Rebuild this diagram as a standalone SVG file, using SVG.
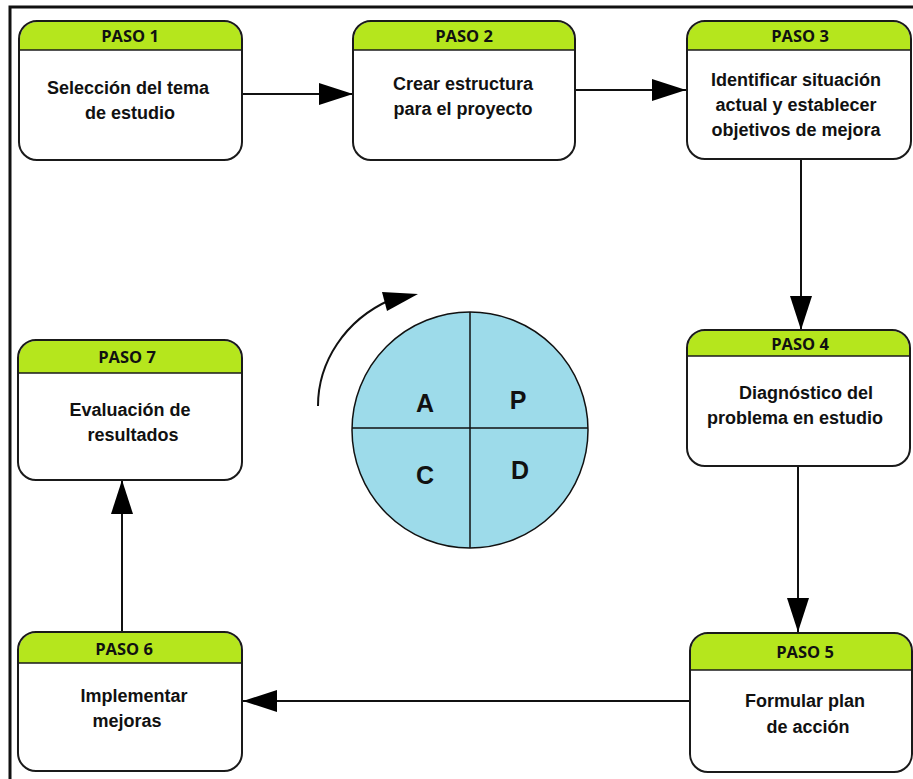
<svg xmlns="http://www.w3.org/2000/svg" width="913" height="779" viewBox="0 0 913 779">
<style>
.box{fill:#fff;stroke:#1a1a1a;stroke-width:2}
.hdr{fill:#b5e61d}
.sep{stroke:#1a1a1a;stroke-width:1.5}
.ht{font-family:"Open Sans","Noto Sans",sans-serif;font-weight:bold;font-size:16.5px;fill:#111;text-anchor:middle}
.bt{font-family:"Liberation Sans",Arial,sans-serif;font-weight:bold;font-size:18px;fill:#111;text-anchor:middle}
.ln{stroke:#111;stroke-width:2;fill:none}
.lt{font-family:"Liberation Sans",Arial,sans-serif;font-weight:bold;font-size:25px;fill:#111;text-anchor:middle}
</style>
<defs>
<marker id="ah" markerWidth="34" markerHeight="22" refX="34" refY="11" markerUnits="userSpaceOnUse" orient="auto">
<path d="M0,0 L34,11 L0,22 Z" fill="#000"/>
</marker>
</defs>
<rect width="913" height="779" fill="#fff"/>
<path d="M10,779 V7 H913" fill="none" stroke="#111" stroke-width="3"/>

<g id="connectors">
<line class="ln" x1="242" y1="94" x2="353" y2="94" marker-end="url(#ah)"/>
<line class="ln" x1="575" y1="90" x2="686" y2="90" marker-end="url(#ah)"/>
<line class="ln" x1="801" y1="160" x2="801" y2="330" marker-end="url(#ah)"/>
<line class="ln" x1="798" y1="466" x2="798" y2="632" marker-end="url(#ah)"/>
<line class="ln" x1="690" y1="701" x2="243" y2="701" marker-end="url(#ah)"/>
<line class="ln" x1="122" y1="632" x2="122" y2="480" marker-end="url(#ah)"/>
</g>

<g id="paso1">
<rect x="19" y="21" width="223" height="139" rx="18" fill="#fff"/>
<path class="hdr" d="M37,22 H224 A17,17 0 0 1 241,39 V50 H20 V39 A17,17 0 0 1 37,22 Z"/>
<line class="sep" x1="20" y1="50" x2="242" y2="50"/>
<rect x="19" y="21" width="223" height="139" rx="18" fill="none" stroke="#1a1a1a" stroke-width="2"/>
<text class="ht" x="130" y="42">PASO 1</text>
<text class="bt" x="128" y="94">Selección del tema</text>
<text class="bt" x="130" y="119">de estudio</text>
</g>

<g id="paso2">
<path class="hdr" d="M371,22 H557 A17,17 0 0 1 574,39 V50 H354 V39 A17,17 0 0 1 371,22 Z"/>
<line class="sep" x1="354" y1="50" x2="575" y2="50"/>
<rect x="353" y="21" width="222" height="139" rx="18" fill="none" stroke="#1a1a1a" stroke-width="2"/>
<text class="ht" x="464" y="42">PASO 2</text>
<text class="bt" x="463" y="90">Crear estructura</text>
<text class="bt" x="463" y="115">para el proyecto</text>
</g>

<g id="paso3">
<path class="hdr" d="M705,22 H893 A17,17 0 0 1 910,39 V50 H688 V39 A17,17 0 0 1 705,22 Z"/>
<line class="sep" x1="687" y1="50" x2="911" y2="50"/>
<rect x="687" y="21" width="224" height="138" rx="18" fill="none" stroke="#1a1a1a" stroke-width="2"/>
<text class="ht" x="800" y="42">PASO 3</text>
<text class="bt" x="796" y="86">Identificar situación</text>
<text class="bt" x="796" y="111">actual y establecer</text>
<text class="bt" x="796" y="136">objetivos de mejora</text>
</g>

<g id="paso4">
<path class="hdr" d="M705,331 H892 A17,17 0 0 1 909,348 V356 H688 V348 A17,17 0 0 1 705,331 Z"/>
<line class="sep" x1="688" y1="356" x2="910" y2="356"/>
<rect x="687" y="330" width="223" height="136" rx="18" fill="none" stroke="#1a1a1a" stroke-width="2"/>
<text class="ht" x="800" y="350">PASO 4</text>
<text class="bt" x="806" y="399">Diagnóstico del</text>
<text class="bt" x="795" y="424">problema en estudio</text>
</g>

<g id="paso5">
<path class="hdr" d="M708,634 H894 A17,17 0 0 1 911,651 V670 H691 V651 A17,17 0 0 1 708,634 Z"/>
<line class="sep" x1="691" y1="670" x2="912" y2="670"/>
<rect x="690" y="633" width="222" height="139" rx="18" fill="none" stroke="#1a1a1a" stroke-width="2"/>
<text class="ht" x="805" y="658">PASO 5</text>
<text class="bt" x="805" y="707">Formular plan</text>
<text class="bt" x="808" y="733">de acción</text>
</g>

<g id="paso6">
<path class="hdr" d="M36,633 H224 A17,17 0 0 1 241,650 V663 H19 V650 A17,17 0 0 1 36,633 Z"/>
<line class="sep" x1="19" y1="663" x2="243" y2="663"/>
<rect x="18" y="632" width="224" height="139" rx="18" fill="none" stroke="#1a1a1a" stroke-width="2"/>
<text class="ht" x="124" y="655">PASO 6</text>
<text class="bt" x="134" y="702">Implementar</text>
<text class="bt" x="127" y="727">mejoras</text>
</g>

<g id="paso7">
<path class="hdr" d="M36,341 H224 A17,17 0 0 1 241,358 V373 H19 V358 A17,17 0 0 1 36,341 Z"/>
<line class="sep" x1="19" y1="373" x2="242" y2="373"/>
<rect x="18" y="340" width="224" height="140" rx="18" fill="none" stroke="#1a1a1a" stroke-width="2"/>
<text class="ht" x="127" y="363">PASO 7</text>
<text class="bt" x="130" y="416">Evaluación de</text>
<text class="bt" x="133" y="441">resultados</text>
</g>

<g id="pdca">
<circle cx="470" cy="430" r="118" fill="#9ddbea" stroke="#111" stroke-width="1.5"/>
<line x1="352" y1="428" x2="588" y2="428" stroke="#111" stroke-width="1.5"/>
<line x1="470" y1="312" x2="470" y2="548" stroke="#111" stroke-width="1.5"/>
<text class="lt" x="425" y="412">A</text>
<text class="lt" x="518" y="409">P</text>
<text class="lt" x="425" y="484">C</text>
<text class="lt" x="520" y="479">D</text>
<path d="M318,406 C318,362 345,320 390,300" fill="none" stroke="#111" stroke-width="2"/>
<path d="M382,292 L418,294 L387,311 Z" fill="#000"/>
</g>
</svg>
